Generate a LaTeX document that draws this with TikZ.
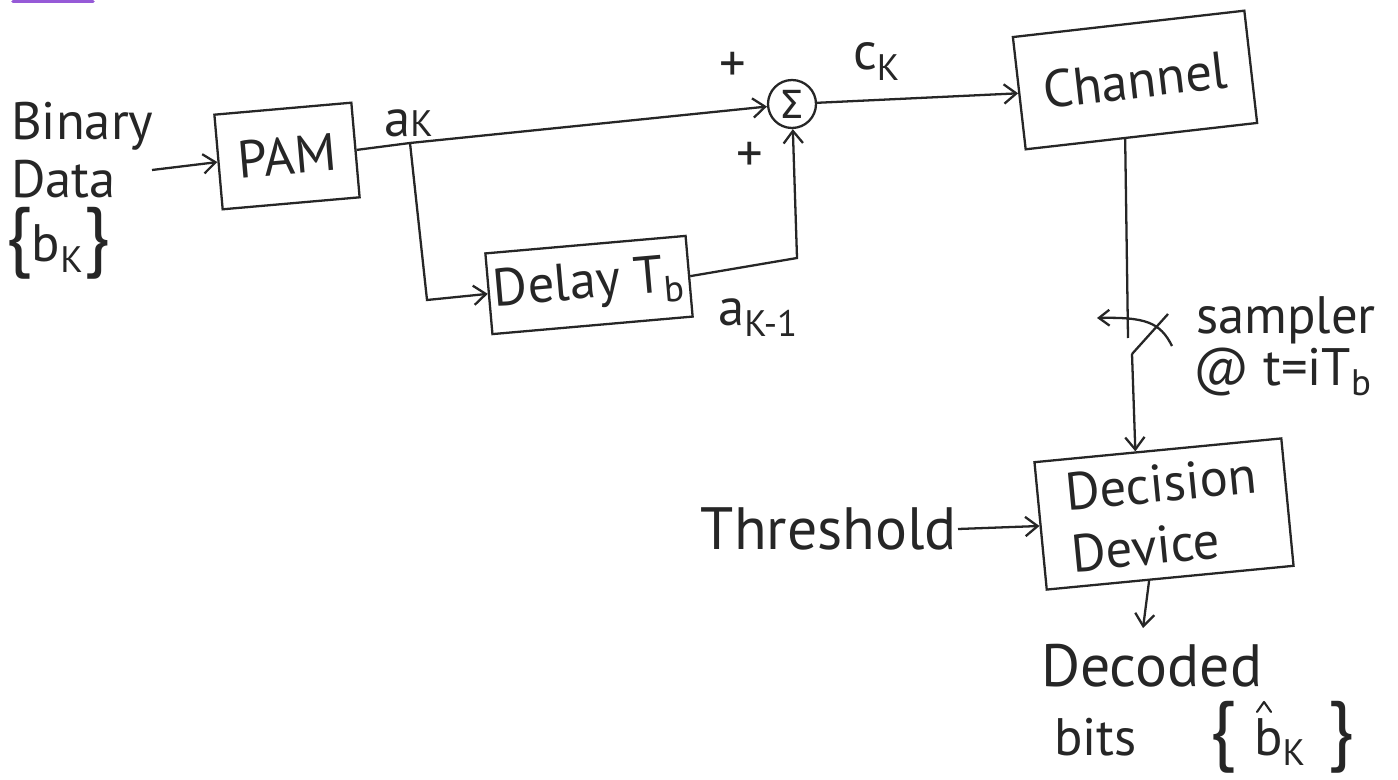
\documentclass[tikz,border=0pt]{standalone}
\usepackage{amsmath}
\usepackage{fontspec}
\setmainfont{PT Sans}
\newfontfamily\sigmafont{DejaVu Sans}
\usetikzlibrary{arrows.meta,calc}
\definecolor{ink}{RGB}{38,38,38}
\definecolor{smear}{RGB}{150,90,215}
\newcommand\handfont{\fontsize{30}{35}\selectfont}
\newcommand\bigfont{\fontsize{34}{38}\selectfont}
\newcommand\bigbrc[1]{{\fontsize{44}{44}\selectfont #1}}
\newcommand\flatsub[1]{{\fontsize{21}{21}\selectfont #1}}
\begin{document}
\begin{tikzpicture}[x=0.02cm,y=-0.02cm,
  line width=1.3pt, draw=ink, text=ink,
  arr/.style={-{Straight Barb[length=7pt,width=11pt]}},
  blk/.style={draw=ink, line width=1.3pt, inner sep=0pt, font=\handfont},
  lbl/.style={inner sep=0pt, font=\handfont},
]
\useasboundingbox (0,0) rectangle (1398,780);
\fill[white] (0,0) rectangle (1398,780);
\draw[smear, line width=2pt, line cap=round] (13,1.5) -- (93,1.5);

% blocks
\node[blk, rotate=5, minimum width=2.75cm, minimum height=1.9cm] (pam) at (287,156) {PAM};
\node[blk, rotate=5, minimum width=4.02cm, minimum height=1.62cm] (delay) at (589,285) {Delay T\textsubscript{b}};
\node[blk, rotate=6.5, minimum width=4.66cm, minimum height=2.26cm] (chan) at (1135,80) {Channel};
\node[blk, rotate=5.5, minimum width=4.96cm, minimum height=2.56cm, align=left] (dec) at (1164,514) {Decision\\Device};
\node[draw=ink, circle, line width=1.3pt, minimum size=0.96cm, inner sep=0pt, font=\fontsize{22}{22}\selectfont\sigmafont] (sum) at (792,104) {Σ};

% labels
\node[lbl, anchor=base west] (bin1) at (10,140) {Binary};
\node[lbl, anchor=base west] (bin2) at (10,198) {Data};
\node[lbl, anchor=base west] (bin3) at (4,262) {\bigbrc{\{}b\textsubscript{K}\bigbrc{\}}};
\node[lbl, anchor=base west] (ak) at (383,137) {a\flatsub{K}};
\node[lbl, anchor=base west] (ck) at (852,70) {c\textsubscript{K}};
\node[lbl, anchor=base west] (ak1) at (717,325) {a\textsubscript{K-1}};
\node[lbl] (p1) at (733,67) {+};
\node[lbl] (p2) at (750,157) {+};
\node[lbl, anchor=base west] (samp) at (1195,333) {sampler};
\node[lbl, anchor=base west] (samt) at (1192,385) {@ t=iT\textsubscript{b}};
\node[lbl, anchor=east, font=\bigfont] (thr) at (958,529) {Threshold};
\node[lbl, anchor=base west, font=\bigfont] (dcd1) at (1040,686) {Decoded};
\node[lbl, anchor=base west] (bits) at (1053,755) {bits};
\node[lbl, anchor=base west] (lbr) at (1208,755) {\bigbrc{\{}};
\node[lbl, anchor=base west] (bk) at (1253,755) {b\textsubscript{K}};
\node[lbl, anchor=base west] (rbr) at (1326,755) {\bigbrc{\}}};
\draw[line width=1.2pt, line cap=round, line join=round] ($(bk.north west)+(4,-5)$) -- ++(7,-10) -- ++(7,10);

% connectors
\coordinate (in) at (152,170);
\draw[arr] (in) -- (pam.west);
\coordinate (J) at (410,143);
\draw[arr] (pam.east) -- (J) -- (sum);
\coordinate (c1) at (427,300);
\draw[arr] (J) -- (c1) -- (delay.west);
\coordinate (c2) at (797,258);
\draw[arr] (delay.east) -- (c2) -- (sum);
\draw[arr] (sum) -- (chan.west);

\coordinate (co) at ($(chan.south west)!0.43!(chan.south east)$);
\coordinate (s1) at (1128,338);
\draw (co) -- (s1);
\coordinate (s2) at (1132,354);
\coordinate (s3) at (1168,314);
\draw (s2) -- (s3);
\coordinate (a1) at (1172,346);
\coordinate (a2) at (1097,318);
\draw[-{Straight Barb[length=6pt,width=9pt]}] (a1) .. controls (1160,322) and (1145,317) .. (a2);
\coordinate (di) at ($(dec.north west)!0.41!(dec.north east)$);
\draw[arr] (s2) -- (di);
\draw[arr] (thr.east) -- (dec.west);
\coordinate (do) at ($(dec.south west)!0.415!(dec.south east)$);
\coordinate (dout) at (1143,628);
\draw[arr] (do) -- (dout);
\end{tikzpicture}
\end{document}
